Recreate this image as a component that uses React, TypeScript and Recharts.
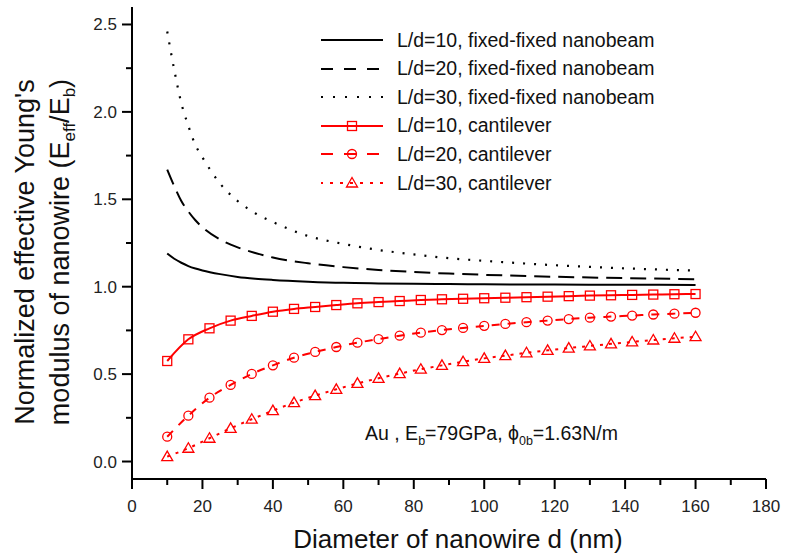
import { LineChart, Line, XAxis, YAxis } from 'recharts'

// diameters (nm) sampled along the fixed-fixed curves
const FIXED_D = [10, 12, 14, 16, 18, 20, 25, 30, 35, 40, 50, 60, 70, 80, 90, 100, 120, 140, 160]
const FIXED_10 = [1.19, 1.16, 1.137, 1.118, 1.104, 1.093, 1.072, 1.056, 1.046, 1.039, 1.029, 1.022, 1.019, 1.017, 1.015, 1.014, 1.012, 1.011, 1.01]
const FIXED_20 = [1.67, 1.575, 1.49, 1.43, 1.38, 1.34, 1.27, 1.225, 1.193, 1.167, 1.134, 1.112, 1.096, 1.084, 1.075, 1.068, 1.057, 1.049, 1.043]
const FIXED_30 = [2.46, 2.24, 2.05, 1.92, 1.81, 1.74, 1.59, 1.49, 1.42, 1.37, 1.29, 1.245, 1.21, 1.185, 1.163, 1.148, 1.123, 1.105, 1.092]

// cantilever markers
const CANT_D = [10, 16, 22, 28, 34, 40, 46, 52, 58, 64, 70, 76, 82, 88, 94, 100, 106, 112, 118, 124, 130, 136, 142, 148, 154, 160]
const CANT_10 = [0.575, 0.699, 0.762, 0.806, 0.833, 0.857, 0.873, 0.884, 0.895, 0.905, 0.912, 0.918, 0.924, 0.928, 0.931, 0.934, 0.937, 0.94, 0.943, 0.946, 0.949, 0.951, 0.953, 0.955, 0.957, 0.958]
const CANT_20 = [0.142, 0.262, 0.365, 0.438, 0.501, 0.55, 0.594, 0.627, 0.655, 0.68, 0.7, 0.72, 0.737, 0.752, 0.764, 0.776, 0.787, 0.797, 0.806, 0.815, 0.823, 0.829, 0.835, 0.841, 0.846, 0.851]
const CANT_30 = [0.028, 0.076, 0.133, 0.19, 0.242, 0.291, 0.337, 0.377, 0.413, 0.447, 0.476, 0.503, 0.528, 0.55, 0.571, 0.59, 0.606, 0.622, 0.636, 0.649, 0.661, 0.673, 0.684, 0.695, 0.705, 0.714]

const X_TICKS = [0, 10, 20, 30, 40, 50, 60, 70, 80, 90, 100, 110, 120, 130, 140, 150, 160, 170, 180]
const Y_TICKS = [0, 0.25, 0.5, 0.75, 1, 1.25, 1.5, 1.75, 2, 2.25, 2.5]

const LEGEND = [
  'L/d=10, fixed-fixed nanobeam',
  'L/d=20, fixed-fixed nanobeam',
  'L/d=30, fixed-fixed nanobeam',
  'L/d=10, cantilever',
  'L/d=20, cantilever',
  'L/d=30, cantilever',
]

const RED = '#ff0000'
const FONT = '"Liberation Sans", Arial, sans-serif'

const toRows = (xs: number[], ys: number[]) => xs.map((x, i) => ({ x, y: ys[i] }))

const fixed10 = toRows(FIXED_D, FIXED_10)
const fixed20 = toRows(FIXED_D, FIXED_20)
const fixed30 = toRows(FIXED_D, FIXED_30)
const cant10 = toRows(CANT_D, CANT_10)
const cant20 = toRows(CANT_D, CANT_20)
const cant30 = toRows(CANT_D, CANT_30)

const Square = ({ cx, cy }: any) => (
  <rect x={cx - 4.5} y={cy - 4.5} width={9} height={9} fill="none" stroke={RED} strokeWidth={1.3} />
)
const Circle = ({ cx, cy }: any) => (
  <circle cx={cx} cy={cy} r={4.5} fill="none" stroke={RED} strokeWidth={1.3} />
)
const Triangle = ({ cx, cy }: any) => (
  <polygon
    points={`${cx},${cy - 5.5} ${cx - 5.5},${cy + 4} ${cx + 5.5},${cy + 4}`}
    fill="none"
    stroke={RED}
    strokeWidth={1.3}
  />
)

const YTick = (props: any) => {
  const { x, y, payload } = props
  const v = payload.value
  const major = Math.abs(v * 2 - Math.round(v * 2)) < 1e-6
  return (
    <g>
      <line x1={x} x2={x - (major ? 10 : 6)} y1={y} y2={y} stroke="#000" strokeWidth={2} />
      {major && (
        <text x={x - 15} y={y} dy={6} textAnchor="end" fontSize={17} fontFamily={FONT} fill="#222">
          {v.toFixed(1)}
        </text>
      )}
    </g>
  )
}

const XTick = (props: any) => {
  const { x, y, payload } = props
  const v = payload.value
  const major = v % 20 === 0
  return (
    <g>
      <line x1={x} x2={x} y1={y} y2={y + (major ? 10 : 6)} stroke="#000" strokeWidth={2} />
      {major && (
        <text x={x} y={y + 33} textAnchor="middle" fontSize={17} fontFamily={FONT} fill="#222">
          {v}
        </text>
      )}
    </g>
  )
}

const LegendSample = ({ i }: { i: number }) => {
  const black = i < 3
  const dash = ['', '12 11', '2 10', '', '12 11', '3 7'][i]
  return (
    <svg width={62} height={20} style={{ display: 'block' }}>
      <line
        x1={0}
        x2={62}
        y1={10}
        y2={10}
        stroke={black ? '#000' : RED}
        strokeWidth={2}
        strokeDasharray={dash || undefined}
        strokeDashoffset={i === 5 ? 1 : 0}
      />
      {i === 3 && <Square cx={31} cy={10} />}
      {i === 4 && <Circle cx={31} cy={10} />}
      {i === 5 && <Triangle cx={31} cy={10} />}
    </svg>
  )
}

export default function App() {
  return (
    <div style={{ position: 'absolute', left: 0, top: 0, width: 785, height: 553, background: '#fff', fontFamily: FONT }}>
      <LineChart width={785} height={553} data={fixed10} margin={{ top: 7, right: 19, left: 0, bottom: 0 }}>
        <XAxis
          dataKey="x"
          type="number"
          domain={[0, 180]}
          ticks={X_TICKS}
          interval={0}
          height={74}
          tickSize={0}
          tickMargin={0}
          tickLine={false}
          axisLine={{ stroke: '#000', strokeWidth: 2 }}
          tick={<XTick />}
        />
        <YAxis
          type="number"
          domain={[-0.1, 2.6]}
          ticks={Y_TICKS}
          interval={0}
          width={132}
          tickSize={0}
          tickMargin={0}
          tickLine={false}
          axisLine={{ stroke: '#000', strokeWidth: 2 }}
          tick={<YTick />}
        />
        <Line data={fixed10} dataKey="y" type="monotone" stroke="#000" strokeWidth={2} dot={false} isAnimationActive={false} />
        <Line data={fixed20} dataKey="y" type="monotone" stroke="#000" strokeWidth={2} strokeDasharray="16 8" dot={false} isAnimationActive={false} />
        <Line data={fixed30} dataKey="y" type="monotone" stroke="#000" strokeWidth={2.2} strokeDasharray="2 9" dot={false} isAnimationActive={false} />
        <Line data={cant10} dataKey="y" type="monotone" stroke={RED} strokeWidth={2} dot={<Square />} isAnimationActive={false} />
        <Line data={cant20} dataKey="y" type="monotone" stroke={RED} strokeWidth={2} strokeDasharray="8 8" dot={<Circle />} isAnimationActive={false} />
        <Line data={cant30} dataKey="y" type="monotone" stroke={RED} strokeWidth={2} strokeDasharray="3 6" dot={<Triangle />} isAnimationActive={false} />
      </LineChart>

      {/* legend */}
      {LEGEND.map((label, i) => (
        <div
          key={label}
          style={{
            position: 'absolute',
            left: 321,
            top: 40 - 14 + i * 28.6,
            height: 28,
            display: 'flex',
            alignItems: 'center',
            fontSize: 19.5,
            color: '#111',
            whiteSpace: 'nowrap',
          }}
        >
          <LegendSample i={i} />
          <span style={{ marginLeft: 14 }}>{label}</span>
        </div>
      ))}

      {/* annotation */}
      <div style={{ position: 'absolute', left: 365, top: 422, fontSize: 19.5, color: '#111', whiteSpace: 'nowrap' }}>
        Au , E<sub style={{ fontSize: 12.5 }}>b</sub>=79GPa, ϕ<sub style={{ fontSize: 12.5 }}>0b</sub>=1.63N/m
      </div>

      {/* x title */}
      <div style={{ position: 'absolute', left: 0, width: 916, top: 524, textAlign: 'center', fontSize: 26, color: '#111', whiteSpace: 'nowrap' }}>
        Diameter of nanowire d (nm)
      </div>

      {/* y title */}
      <div
        style={{
          position: 'absolute',
          left: 43 - 220,
          top: 252 - 35,
          width: 440,
          height: 70,
          lineHeight: '35px',
          textAlign: 'center',
          fontSize: 27,
          color: '#111',
          transform: 'rotate(-90deg)',
          whiteSpace: 'nowrap',
        }}
      >
        Normalized effective Young's
        <br />
        modulus of nanowire (E<sub style={{ fontSize: 17 }}>eff</sub>/E<sub style={{ fontSize: 17 }}>b</sub>)
      </div>
    </div>
  )
}
